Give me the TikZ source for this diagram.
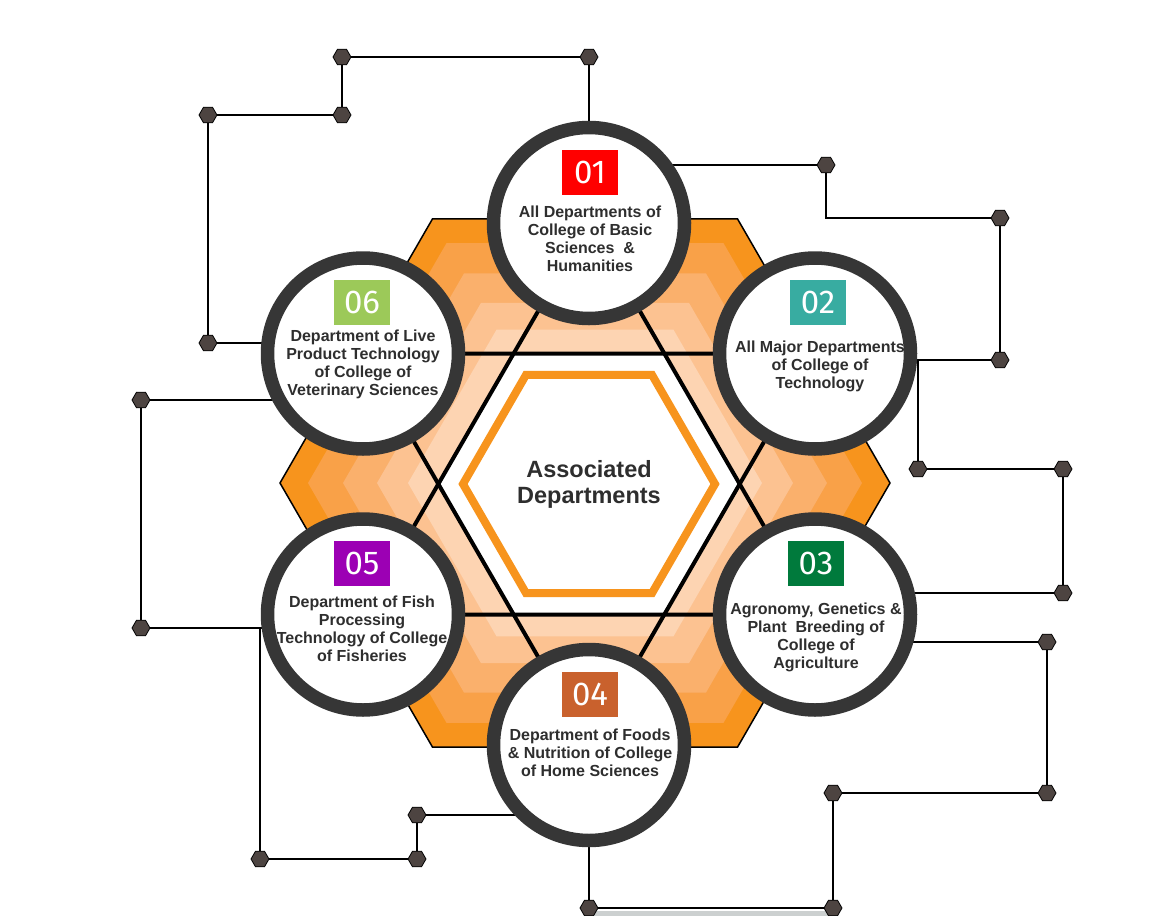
\documentclass[tikz,border=0pt]{standalone}
\usepackage{fontspec}
\setmainfont{Liberation Sans}
\newfontfamily\numfont{Fira Sans}
\usetikzlibrary{shapes.geometric, backgrounds, calc}

\definecolor{bandA}{HTML}{F7941D}
\definecolor{bandB}{HTML}{F9A148}
\definecolor{bandC}{HTML}{FAB06C}
\definecolor{bandD}{HTML}{FCC291}
\definecolor{bandE}{HTML}{FDD4B2}
\definecolor{ringgray}{HTML}{363636}
\definecolor{textgray}{HTML}{2E2E2E}
\definecolor{knotfill}{HTML}{4D4441}
\definecolor{shadegray}{HTML}{CCD0D0}
\definecolor{boxred}{HTML}{FF0000}
\definecolor{boxteal}{HTML}{38ACA1}
\definecolor{boxgreen}{HTML}{007A3C}
\definecolor{boxrust}{HTML}{C9612D}
\definecolor{boxpurple}{HTML}{9C00B4}
\definecolor{boxlime}{HTML}{9CC959}

\tikzset{
  dept/.style={circle, draw=ringgray, line width=13.5pt, fill=white, minimum size=191pt, inner sep=0pt},
  numbox/.style={fill=#1, text=white, minimum width=56pt, minimum height=45pt, inner sep=0pt, font=\numfont\fontsize{33}{33}\selectfont},
  depttext/.style={text=textgray, align=center, font=\bfseries\fontsize{16}{18}\selectfont},
  knot/.style={regular polygon, regular polygon sides=6, minimum size=18pt, inner sep=0pt, fill=knotfill, draw=black, line width=0.8pt},
  wire/.style={line width=2pt, black}
}

\begin{document}
\begin{tikzpicture}[x=1pt, y=-1pt] % 1 Einheit = 1 Pixel, y nach unten

\useasboundingbox (0,0) rectangle (1176,916);
\coordinate (O) at (589,484);
\coordinate (H) at (585,483);

% Kreise mit Nummern
\foreach \i/\x/\y/\bx/\col in {1/589/223/590/boxred, 2/815/353.5/818/boxteal, 3/815/614.5/816/boxgreen, 4/589/745/590/boxrust, 5/363/614.5/362/boxpurple, 6/363/353.5/362/boxlime} {
  \node[dept] (c\i) at (\x,\y) {};
  \node[numbox=\col] (b\i) at (\bx,\y-51) {0\i};
}

% Beschriftungen
\node[depttext] (d1) at (590,239) {All Departments of\\College of Basic\\Sciences \ \&\\Humanities};
\node[depttext] (d2) at (820,366) {All Major Departments\\of College of\\Technology};
\node[depttext] (d3) at (816,637) {Agronomy, Genetics \&\\Plant \ Breeding of\\College of\\Agriculture};
\node[depttext] (d4) at (590,753) {Department of Foods\\\& Nutrition of College\\of Home Sciences};
\node[depttext] (d5) at (362,629) {Department of Fish\\Processing\\Technology of College\\of Fisheries};
\node[depttext] (d6) at (363,364) {Department of Live\\Product Technology\\of College of\\Veterinary Sciences};

% Mitte
\draw[bandA, line width=8pt, shift={(O)}] (0:126) -- (60:126) -- (120:126) -- (180:126) -- (240:126) -- (300:126) -- cycle;
\node[text=textgray, align=center, font=\bfseries\fontsize{23.5}{26}\selectfont] (hub) at (O) {Associated\\Departments};

% Knoten
\foreach \k/\x/\y in {1/589/57, 2/342/57, 3/342/115, 4/208/115, 5/208/343, 6/826/165, 7/1000/218, 8/1000/360, 9/918/469, 10/1063/469, 11/1063/593, 12/1047/642, 13/1047/793, 14/833/793, 15/833/908, 16/589/908, 17/141/400, 18/141/628, 19/260/859, 20/417/859, 21/417/815}
  \node[knot] (k\k) at (\x,\y) {};

\begin{scope}[on background layer]
  % Sechseck-Baender
  \foreach \r/\col in {305/bandA, 277/bandB, 242/bandC, 208/bandD, 177/bandE}
    \fill[\col, shift={(H)}] (0:\r) -- (60:\r) -- (120:\r) -- (180:\r) -- (240:\r) -- (300:\r) -- cycle;
  \draw[black, line width=1.5pt, shift={(H)}] (0:305) -- (60:305) -- (120:305) -- (180:305) -- (240:305) -- (300:305) -- cycle;
  \fill[white, shift={(O)}] (0:150.7) -- (60:150.7) -- (120:150.7) -- (180:150.7) -- (240:150.7) -- (300:150.7) -- cycle;

  % Stern
  \draw[line width=4pt] (c1.center) -- (c3.center) -- (c5.center) -- cycle;
  \draw[line width=4pt] (c2.center) -- (c4.center) -- (c6.center) -- cycle;

  % Leitungen
  \draw[wire] (c1) -- (k1) -- (k2) -- (k3) -- (k4) -- (k5) -- (c6 |- k5);
  \draw[wire] (c1 |- k6) -- (k6) |- (k7) -- (k8) -- (c2 |- k8);
  \draw[wire] (k9 |- k8) -- (k9) -- (k10) -- (k11) -- (c3 |- k11);
  \draw[wire] (c3 |- k12) -- (k12) -- (k13) -- (k14) -- (k15) -- (k16) -- (c4);
  \draw[wire] (c6 |- k17) -- (k17) -- (k18) -- (c5 |- k18);
  \draw[wire] (k19 |- k18) -- (k19) -- (k20) -- (k21) -- (c4 |- k21);
  \fill[shadegray] (589,911) rectangle (833,916);
\end{scope}

\end{tikzpicture}
\end{document}
